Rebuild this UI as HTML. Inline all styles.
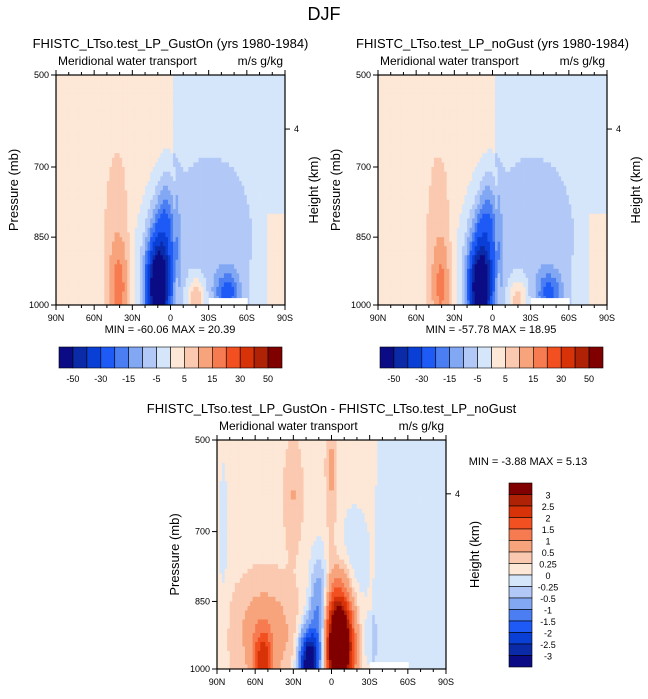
<!DOCTYPE html>
<html><head><meta charset="utf-8">
<style>
body{margin:0;background:#fff;}
svg text{font-family:"Liberation Sans",Arial,sans-serif;fill:#000;}
</style></head>
<body>
<svg id="root" width="648" height="694" viewBox="0 0 648 694">
<text x="324" y="20" font-size="18" text-anchor="middle">DJF</text>
</svg>
<script>
// ---- data ----
const topLevels = [-50,-40,-30,-20,-15,-10,-5,0,5,10,15,20,30,40,50];
const topLevelLabels = ["-50","-30","-15","-5","5","15","30","50"];
const diffLevels = [-3,-2.5,-2,-1.5,-1,-0.5,-0.25,0,0.25,0.5,1,1.5,2,2.5,3];
const diffLevelLabels = ["-3","-2.5","-2","-1.5","-1","-0.5","-0.25","0","0.25","0.5","1","1.5","2","2.5","3"];
const colors = ["#0b0c85","#0a2aa8","#0a3fd6","#1e5af5","#4a7ef2","#82a8f4","#b2c9f8","#d5e6fb","#fde7d6","#fac9b0","#f7a47c","#f77b50","#f25020","#d83208","#b02205","#800000"];
const xTickLabels = ["90N","60N","30N","0","30S","60S","90S"];
const pTicks = [500,700,850,1000];
const pPix = [0,0.40,0.705,1.0];
// blobs: [xdeg(0=90N..180=90S), pressure, amplitude, sigmaX(deg), sigmaP(mb)]
const gustOnBlobs = [[50,965,13,6,80],[48,830,4.5,8,150],[80,970,-60,5.5,60],[84,900,-25,7,90],[75,920,-8,12,90],[88,780,-7,5,60],[110,985,15,5,35],[135,975,-18,7,35],[122,850,-6,24,130]];
const noGustBlobs = [[50,965,12,6,80],[48,830,4.3,8,150],[80,970,-56,5.5,60],[84,900,-24,7,90],[75,920,-8,12,90],[88,780,-7,5,60],[110,985,13,5,35],[135,975,-17,7,35],[122,850,-6,24,130]];
const diffBlobs = [[96,950,5.5,7,80],[72,988,-3.9,5,50],[80,900,-1.4,5,90],[36,985,1.9,5,50],[38,920,0.6,17,80],[90,570,0.42,3,110],[60,620,0.36,5,80],[120,940,-0.35,4,40],[5,700,-0.25,3,150],[108,760,-0.35,10,90]];
const topBg = [2.5,-2.5];
const diffBg = [0.15,-0.12];

const NS="http://www.w3.org/2000/svg";
const root=document.getElementById('root');
function mk(tag,attrs,parent){const e=document.createElementNS(NS,tag);for(const k in attrs)e.setAttribute(k,attrs[k]);(parent||root).appendChild(e);return e;}
function txt(x,y,s,size,anchor,parent,extra){const t=mk('text',Object.assign({x:x,y:y,'font-size':size,'text-anchor':anchor||'start'},extra||{}),parent);t.textContent=s;return t;}
function pToFrac(p){for(let i=0;i<3;i++){if(p<=pTicks[i+1]){const f=(p-pTicks[i])/(pTicks[i+1]-pTicks[i]);return pPix[i]+f*(pPix[i+1]-pPix[i]);}}return 1;}
function colorFor(v,levels){let i=0;while(i<levels.length&&v>=levels[i])i++;return colors[i];}

function panel(name,x0,y0,w,h,blobs,bg,levels,isTop,title){
  const g=mk('g',{});
  
  
  const nx=90,np=50;
  for(let i=0;i<nx;i++){
    for(let j=0;j<np;j++){
      const xd=(i+0.5)*180/nx;
      const p=500+(j+0.5)*500/np;
      const bound=isTop?(91+(p-500)*0.01):(126-(p-500)*0.01);
      let v=xd<bound?bg[0]:bg[1];
      if(isTop&&xd>165&&p>800)v=bg[0];
      for(const b of blobs){const dx=(xd-b[0])/b[3],dp=(p-b[1])/b[4];v+=b[2]*Math.exp(-0.5*(dx*dx+dp*dp));}
      const xa=x0+i*w/nx, ya=y0+pToFrac(500+j*500/np)*h, yb=y0+pToFrac(500+(j+1)*500/np)*h;
      const r=mk('rect',{x:xa.toFixed(2),y:ya.toFixed(2),width:(w/nx+0.4).toFixed(2),height:(yb-ya+0.4).toFixed(2),fill:colorFor(v,levels)},g);
      
      
    }
  }
  mk('rect',{x:x0+w*0.667,y:y0+h*0.97,width:w*0.17,height:h*0.03,fill:'#fff'},g);
  mk('rect',{x:x0,y:y0,width:w,height:h,fill:'none',stroke:'#000','stroke-width':1.2},g);
  for(let d=0;d<=180;d+=10){
    const x=x0+d*w/180,len=d%30==0?5:3;
    mk('line',{x1:x,y1:y0+h,x2:x,y2:y0+h+len,stroke:'#000'},g);
    mk('line',{x1:x,y1:y0,x2:x,y2:y0-len,stroke:'#000'},g);
  }
  xTickLabels.forEach((s,k)=>{const t=txt(x0+k*30*w/180,y0+h+16,s,9,'middle',g);});
  pTicks.forEach((p)=>{const y=y0+pToFrac(p)*h;mk('line',{x1:x0,y1:y,x2:x0-5,y2:y,stroke:'#000'},g);const t=txt(x0-7,y+3,String(p),9,'end',g);});
  const yh=y0+0.235*h;
  mk('line',{x1:x0+w,y1:yh,x2:x0+w+5,y2:yh,stroke:'#000'},g);
  txt(x0+w+9,yh+3,'4',9,'start',g);
  const yl=txt(0,0,'Pressure (mb)',13,'middle',g,{transform:`translate(${x0-38},${y0+h/2}) rotate(-90)`});
  
  const hl=txt(0,0,'Height (km)',13,'middle',g,{transform:`translate(${x0+w+33},${y0+h/2}) rotate(-90)`});
  
  const tt=txt(x0+w/2,y0-27,title,13,'middle',g);
  const st=txt(x0+2,y0-10,'Meridional water transport',12,'start',g);
  const ut=txt(x0+w-2,y0-10,'m/s g/kg',12,'end',g);
  return g;
}
function hbar(name,x0,y0,w,h,labels){
  const g=mk('g',{});
  
  const bw=w/colors.length;
  colors.forEach((c,i)=>{const r=mk('rect',{x:x0+i*bw,y:y0,width:bw,height:h,fill:c,stroke:'#000','stroke-width':0.6},g);});
  labels.forEach((s,k)=>{txt(x0+(2*k+1)*bw,y0+h+14,s,9,'middle',g);});
}
function vbar(name,x0,y0,w,h,labels){
  const g=mk('g',{});
  
  const bh=h/colors.length;
  colors.slice().reverse().forEach((c,i)=>{const r=mk('rect',{x:x0,y:y0+i*bh,width:w,height:bh,fill:c,stroke:'#000','stroke-width':0.6},g);});
  labels.slice().reverse().forEach((s,k)=>{txt(x0+w+16,y0+(k+1)*bh+4,s,9,'middle',g);});
}
panel('gust-on-panel',56,75,229,230,gustOnBlobs,topBg,topLevels,true,'FHISTC_LTso.test_LP_GustOn (yrs 1980-1984)');
txt(170,333,'MIN = -60.06  MAX =  20.39',11,'middle');
hbar('gust-on-colorbar',59,347,223,21,topLevelLabels);
panel('no-gust-panel',378,75,229,230,noGustBlobs,topBg,topLevels,true,'FHISTC_LTso.test_LP_noGust (yrs 1980-1984)');
txt(491,333,'MIN = -57.78  MAX =  18.95',11,'middle');
hbar('no-gust-colorbar',380,347,223,21,topLevelLabels);
panel('difference-panel',217,440,229,229,diffBlobs,diffBg,diffLevels,false,'FHISTC_LTso.test_LP_GustOn - FHISTC_LTso.test_LP_noGust');
txt(528,465,'MIN =  -3.88  MAX =   5.13',11,'middle');
vbar('difference-colorbar',509,483,23,184,diffLevelLabels);
</script>
</body></html>
